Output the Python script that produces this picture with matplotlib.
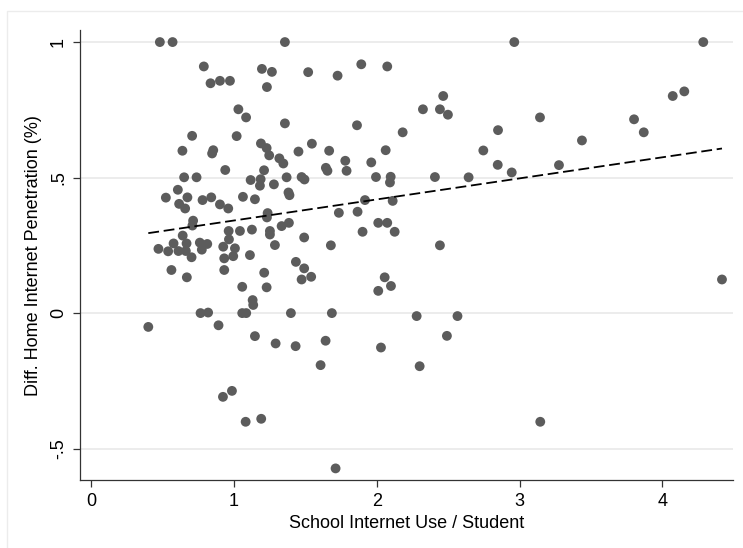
import numpy as np
import matplotlib
matplotlib.use("Agg")
import matplotlib.pyplot as plt
from matplotlib.patches import Rectangle

plt.rcParams['font.family'] = ['Liberation Sans Narrow', 'Liberation Sans', 'DejaVu Sans']

# school internet use per student (x) and difference in home internet penetration (y)
school_use = [
    0.480, 0.569, 1.356, 2.963, 4.287,
    0.788, 1.195, 1.265, 0.835, 0.901, 0.971, 1.230, 1.519, 1.725, 1.891, 2.073, 2.465,
    1.030, 1.084, 1.356, 2.323, 2.442, 2.498, 1.861, 2.181, 0.706, 1.018, 1.188, 1.228,
    1.246, 1.317, 1.345, 1.451, 1.545, 1.666, 2.062, 1.779, 1.788, 1.643, 1.654, 1.961,
    0.638, 0.854, 0.846, 0.938, 1.210, 0.650, 0.737, 1.116, 1.186, 1.368, 1.473, 1.493,
    1.994, 2.097, 2.092, 2.407, 2.643, 3.143, 2.849, 2.746, 2.847, 2.945, 3.276, 3.437,
    3.802, 3.870, 4.073, 4.154,
    1.181, 1.279, 1.381, 1.388, 0.606, 0.522, 0.673, 0.779, 0.840, 1.062, 1.146, 0.615,
    0.657, 0.901, 0.959, 1.235, 1.230, 0.713, 0.708, 1.333, 1.384, 0.962, 1.041, 1.125,
    1.251, 1.251, 0.640, 0.964, 0.470, 0.576, 0.538, 0.610, 0.667, 0.662, 0.702, 0.760,
    0.812, 0.774, 0.924, 1.006, 0.994, 0.931, 1.111, 1.286, 0.561, 0.669, 0.931, 1.211,
    1.433, 1.057, 1.228, 1.130, 1.134, 0.765, 0.818, 1.057, 1.085, 1.398, 1.473, 0.399,
    1.917, 2.111, 1.734, 1.865, 2.010, 2.073, 1.900, 2.125, 1.491, 1.678, 2.442, 1.491,
    1.540, 2.055, 2.099, 2.010, 1.685, 2.279, 2.565,
    0.891, 1.146, 1.291, 1.431, 0.985, 0.922, 1.081, 1.190, 1.641, 2.029, 2.491, 1.606,
    2.300, 1.711, 3.145, 4.418,
]
home_diff = [
    1.0, 1.0, 1.0, 1.0, 1.0,
    0.910, 0.901, 0.890, 0.848, 0.857, 0.857, 0.834, 0.889, 0.876, 0.918, 0.910, 0.801,
    0.752, 0.722, 0.700, 0.752, 0.752, 0.732, 0.693, 0.667, 0.654, 0.653, 0.626, 0.609,
    0.582, 0.571, 0.552, 0.596, 0.625, 0.599, 0.601, 0.562, 0.525, 0.536, 0.525, 0.556,
    0.599, 0.601, 0.589, 0.528, 0.527, 0.501, 0.501, 0.491, 0.494, 0.501, 0.502, 0.493,
    0.502, 0.503, 0.482, 0.502, 0.501, 0.722, 0.675, 0.600, 0.547, 0.519, 0.546, 0.637,
    0.715, 0.667, 0.801, 0.818,
    0.470, 0.475, 0.445, 0.435, 0.455, 0.426, 0.427, 0.417, 0.427, 0.429, 0.420, 0.403,
    0.386, 0.401, 0.386, 0.369, 0.353, 0.341, 0.323, 0.321, 0.333, 0.303, 0.303, 0.308,
    0.303, 0.290, 0.286, 0.272, 0.237, 0.257, 0.228, 0.229, 0.257, 0.229, 0.206, 0.260,
    0.255, 0.234, 0.245, 0.239, 0.210, 0.202, 0.214, 0.251, 0.159, 0.132, 0.159, 0.149,
    0.189, 0.097, 0.095, 0.048, 0.030, 0.0, 0.002, 0.0, 0.0, 0.0, 0.124, -0.051,
    0.417, 0.414, 0.370, 0.374, 0.333, 0.333, 0.300, 0.300, 0.279, 0.250, 0.250, 0.165,
    0.134, 0.132, 0.100, 0.082, 0.0, -0.011, -0.011,
    -0.045, -0.085, -0.112, -0.122, -0.287, -0.309, -0.401, -0.390, -0.102, -0.127, -0.084, -0.192,
    -0.196, -0.573, -0.401, 0.124,
]

# fitted line (intercept, slope)
fit_intercept = 0.264
fit_slope = 0.0777

x_ticks = [0, 1, 2, 3, 4]
y_ticks = [-0.5, 0, 0.5, 1]
y_ticklabels = ['-.5', '0', '.5', '1']

x = np.array(school_use)
y = np.array(home_diff)

fig = plt.figure(figsize=(7.43, 5.48), dpi=100)
ax = fig.add_axes([0.107, 0.124, 0.8795, 0.821])

# outer graph region frame (stata style)
fig.patches.append(Rectangle((7 / 743, -0.1), 2.0, 1.1 - 11 / 548, transform=fig.transFigure,
                             fill=False, edgecolor='#ececec', linewidth=1.0, zorder=0))

for yt in y_ticks:
    ax.axhline(yt, color='#eaeaea', linewidth=1.3, zorder=0)

ax.scatter(x, y, s=50, color='#5c5c5c', edgecolors='none', zorder=3)

xf = np.array([x.min(), x.max()])
ax.plot(xf, fit_intercept + fit_slope * xf, color='black', linewidth=1.3, dashes=(6, 2.6), zorder=4)

ax.set_xlim(-0.083, 4.495)
ax.set_ylim(-0.616, 1.044)
ax.set_xticks(x_ticks)
ax.set_yticks(y_ticks)
ax.set_yticklabels(y_ticklabels, rotation=90, va='center')
ax.tick_params(axis='both', direction='out', length=5, width=0.9, color='#333333',
               labelsize=13, pad=4)
for s in ['top', 'right']:
    ax.spines[s].set_visible(False)
for s in ['left', 'bottom']:
    ax.spines[s].set_color('#333333')
    ax.spines[s].set_linewidth(0.9)

ax.set_xlabel('School Internet Use / Student', fontsize=13, labelpad=4)
ax.set_ylabel('Diff. Home Internet Penetration (%)', fontsize=13, labelpad=6)

fig.savefig('out.png', dpi=100)
